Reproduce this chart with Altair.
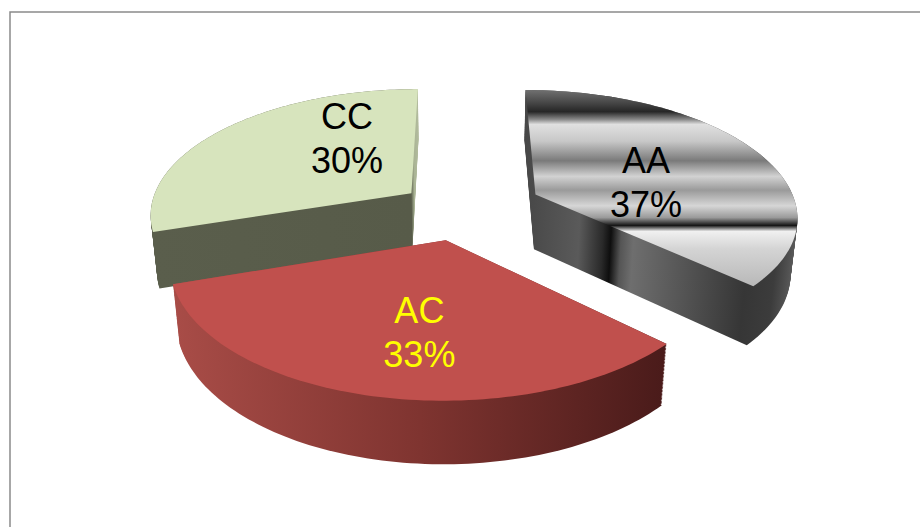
import altair as alt
import pandas as pd

# ---------------- data ----------------
labels = ["AA", "AC", "CC"]
values = [37, 33, 30]

# ---------------- layout / style constants ----------------
W, H = 920, 527
PAD_L, PAD_T = 10, 12
OVER = 12                  # frame runs past the right and bottom edges
CX, CY = 460, 210          # pie centre (px)
SCALE = 262                # pixels per pie radius at centre depth
SIN_T, COS_T = 0.477, 0.879  # camera elevation
PERSP = 0.1763             # radius / camera distance
THICK = 0.246              # slab thickness in radius units
N_ARC = 90
N_LEVEL = 44
FONT = "Liberation Sans"
FONT_SIZE = 36
LINE_GAP = 44

EXPLODE = {"AA": 0.32, "AC": 0.24, "CC": 0.234}
LABEL_R = {"AA": 0.455, "AC": 0.622, "CC": 0.568}
LABEL_SHIFT = {"AA": -9.7, "AC": 5.0, "CC": -24.0}
LABEL_COLOR = {"AA": "#000000", "AC": "#FFFF00", "CC": "#000000"}


def grad(stops, vertical=False):
    return alt.LinearGradient(
        gradient="linear",
        stops=[alt.GradientStop(color=c, offset=o) for o, c in stops],
        x1=0, y1=0, x2=0 if vertical else 1, y2=1 if vertical else 0,
    )


TOP_FILL = {
    "CC": "#D7E4BD",
    "AC": "#C0504D",
    "AA": grad([
        (0.0, "#707070"), (0.06, "#4a4a4a"), (0.11, "#262626"), (0.15, "#8a8a8a"),
        (0.175, "#e0e0e0"), (0.26, "#c8c8c8"), (0.36, "#7a7a7a"), (0.44, "#d2d2d2"),
        (0.51, "#9a9a9a"), (0.59, "#d6d6d6"), (0.65, "#9a9a9a"), (0.69, "#151515"),
        (0.72, "#f0f0f0"), (0.81, "#d4d4d4"), (1.0, "#b8b8b8"),
    ], vertical=True),
}
SIDE_FILL = {
    "CC": grad([(0.0, "#5A5E4C"), (0.975, "#575B49"), (0.985, "#A9B394"), (1.0, "#B3BC9E")]),
    "AC": grad([(0.0, "#A84C47"), (0.5, "#7F3430"), (1.0, "#4A1B1A")]),
    "AA": grad([
        (0.0, "#474747"), (0.2, "#5a5a5a"), (0.286, "#2a2a2a"), (0.316, "#0e0e0e"),
        (0.353, "#555555"), (0.398, "#6e6e6e"), (0.584, "#555555"), (0.807, "#363636"),
        (0.918, "#3c3c3c"), (1.0, "#5a5a5a"),
    ]),
}

df = pd.DataFrame({"label": labels, "value": values, "order": list(range(len(labels)))})

X_SCALE = alt.Scale(domain=[PAD_L, W + OVER], zero=False, nice=False)
Y_SCALE = alt.Scale(domain=[PAD_T, H + OVER], zero=False, nice=False, reverse=True)

base = (
    alt.Chart(df)
    .transform_window(cum="sum(value)", sort=[alt.SortField("order")], frame=[None, 0])
    .transform_joinaggregate(total="sum(value)")
    .transform_calculate(a0="PI/2 - 2*PI*(datum.cum - datum.value)/datum.total")
    .transform_calculate(a1="PI/2 - 2*PI*datum.cum/datum.total")
    .transform_calculate(mid="(datum.a0 + datum.a1)/2")
)


def project(ch):
    return ch.transform_calculate(
        den=f"1 - {PERSP}*(datum.uy*{SIN_T} + datum.uz*{COS_T})"
    ).transform_calculate(
        px=f"{CX} + {SCALE}*datum.ux/datum.den"
    ).transform_calculate(
        py=f"{CY} - {SCALE}*(datum.uy*{COS_T} - datum.uz*{SIN_T})/datum.den"
    )


def slice_layer(lab, kind):
    e = EXPLODE[lab]
    ch = base.transform_filter(alt.datum.label == lab)
    ch = ch.transform_calculate(i=f"sequence(0, {N_ARC + 2})").transform_flatten(["i"])
    if kind == "side":
        ch = ch.transform_calculate(lv=f"sequence(0, {N_LEVEL + 1})").transform_flatten(["lv"])
        ch = ch.transform_calculate(uy=f"-{THICK} + {THICK}*datum.lv/{N_LEVEL}")
        fill = SIDE_FILL[lab]
    else:
        ch = ch.transform_calculate(lv="0").transform_calculate(uy="0")
        fill = TOP_FILL[lab]
    ch = ch.transform_calculate(
        th=f"datum.a0 + (datum.a1 - datum.a0)*(datum.i - 1)/{N_ARC}"
    ).transform_calculate(
        rr="datum.i == 0 ? 0 : 1"
    ).transform_calculate(
        ux=f"datum.rr*cos(datum.th) + {e}*cos(datum.mid)"
    ).transform_calculate(
        uz=f"-(datum.rr*sin(datum.th) + {e}*sin(datum.mid))"
    )
    ch = project(ch)
    return ch.mark_line(fill=fill, strokeWidth=0, interpolate="linear").encode(
        x=alt.X("px:Q", scale=X_SCALE, axis=None),
        y=alt.Y("py:Q", scale=Y_SCALE, axis=None),
        detail="lv:N",
        order="i:Q",
    )


def text_layer(lab):
    e = EXPLODE[lab]
    ch = base.transform_filter(alt.datum.label == lab).transform_calculate(
        lt=f"datum.mid + {LABEL_SHIFT[lab]}*PI/180"
    ).transform_calculate(
        ux=f"{e}*cos(datum.mid) + {LABEL_R[lab]}*cos(datum.lt)"
    ).transform_calculate(
        uz=f"-({e}*sin(datum.mid) + {LABEL_R[lab]}*sin(datum.lt))"
    ).transform_calculate(uy="0")
    ch = project(ch)
    ch = ch.transform_calculate(
        lines="[datum.label, datum.value + '%']"
    ).transform_calculate(
        jj="[0, 1]"
    ).transform_flatten(["lines", "jj"]).transform_calculate(
        ty=f"datum.py + (datum.jj - 0.5)*{LINE_GAP}"
    )
    return ch.mark_text(
        font=FONT, fontSize=FONT_SIZE, align="center", baseline="middle",
        dy=2, color=LABEL_COLOR[lab],
    ).encode(
        x=alt.X("px:Q", scale=X_SCALE, axis=None),
        y=alt.Y("ty:Q", scale=Y_SCALE, axis=None),
        text="lines:N",
    )


layers = []
for lab in ["CC", "AA", "AC"]:
    layers.append(slice_layer(lab, "side"))
    layers.append(slice_layer(lab, "top"))
for lab in ["CC", "AA", "AC"]:
    layers.append(text_layer(lab))

chart = (
    alt.layer(*layers)
    .properties(
        width=W - PAD_L + OVER,
        height=H - PAD_T + OVER,
        padding={"left": PAD_L, "top": PAD_T, "right": -OVER, "bottom": -OVER},
        autosize="none",
        background="#ffffff",
    )
    .configure_view(stroke="#8a8a8a", strokeWidth=1.5)
)

chart.save("out.html", embed_options={"renderer": "svg", "actions": False})
